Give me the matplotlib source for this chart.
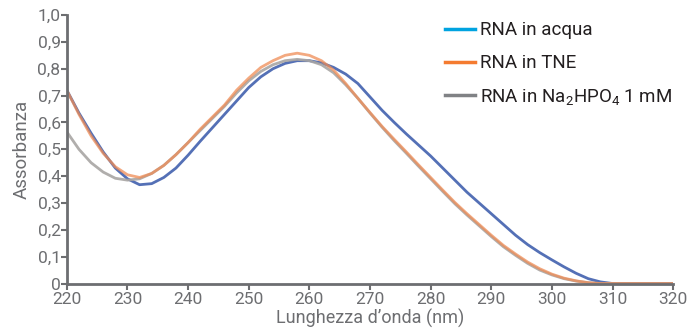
#!/usr/bin/env python3
"""UV absorbance spectra of RNA in three buffers."""

import matplotlib

matplotlib.use('Agg')
import matplotlib.pyplot as plt
from matplotlib.lines import Line2D
from matplotlib.ticker import FuncFormatter

# wavelengths (nm)
wl = [220, 222, 224, 226, 228, 230, 232, 234, 236, 238, 240, 242, 244, 246,
      248, 250, 252, 254, 256, 258, 260, 262, 264, 266, 268, 270, 272, 274,
      276, 278, 280, 282, 284, 286, 288, 290, 292, 294, 296, 298, 300, 302,
      304, 306, 308, 310, 314, 320]

acqua = [0.72, 0.635, 0.56, 0.49, 0.43, 0.39, 0.368, 0.372, 0.395, 0.43, 0.478,
         0.53, 0.58, 0.63, 0.68, 0.73, 0.77, 0.80, 0.82, 0.83, 0.83, 0.822,
         0.805, 0.78, 0.745, 0.695, 0.645, 0.60, 0.557, 0.516, 0.475, 0.43,
         0.385, 0.34, 0.30, 0.26, 0.22, 0.18, 0.145, 0.115, 0.088, 0.062,
         0.038, 0.018, 0.006, 0.0, 0.0, 0.0]

tne = [0.72, 0.63, 0.55, 0.485, 0.435, 0.405, 0.395, 0.41, 0.44, 0.48, 0.525,
       0.575, 0.62, 0.665, 0.72, 0.765, 0.805, 0.83, 0.85, 0.858, 0.85, 0.83,
       0.795, 0.745, 0.69, 0.637, 0.585, 0.537, 0.49, 0.442, 0.395, 0.348,
       0.302, 0.26, 0.22, 0.18, 0.142, 0.11, 0.08, 0.055, 0.035, 0.02, 0.01,
       0.003, 0.0, 0.0, 0.0, 0.0]

na2hpo4 = [0.565, 0.50, 0.45, 0.415, 0.392, 0.385, 0.39, 0.41, 0.44, 0.48,
           0.525, 0.57, 0.615, 0.66, 0.71, 0.755, 0.79, 0.815, 0.83, 0.835,
           0.83, 0.815, 0.785, 0.74, 0.69, 0.635, 0.582, 0.532, 0.485, 0.437,
           0.39, 0.343, 0.297, 0.255, 0.215, 0.175, 0.137, 0.105, 0.075, 0.05,
           0.032, 0.018, 0.009, 0.003, 0.0, 0.0, 0.0, 0.0]

labels = ['RNA in acqua', 'RNA in TNE', r'RNA in Na$_2$HPO$_4$ 1 mM']

plt.rcParams['font.family'] = ['Roboto', 'DejaVu Sans']
plt.rcParams['mathtext.fontset'] = 'custom'
plt.rcParams['mathtext.rm'] = 'Roboto'
plt.rcParams['mathtext.it'] = 'Roboto'

axis_grey = '#6d6e71'

fig = plt.figure(figsize=(6.89, 3.31), dpi=100)
ax = fig.add_axes([0.097, 0.1435, 0.880, 0.811])

ax.plot(wl, acqua, color='#5470b6', linewidth=2.0)
ax.plot(wl, na2hpo4, color='#a8a5a3', linewidth=2.0, alpha=0.9)
ax.plot(wl, tne, color='#ef8c55', linewidth=2.0, alpha=0.75)

ax.set_xlim(220, 320)
ax.set_ylim(0, 1.0)
ax.set_xticks(range(220, 321, 10))
ax.set_yticks([i / 10 for i in range(11)])
ax.yaxis.set_major_formatter(
    FuncFormatter(lambda v, _: '0' if v == 0 else f'{v:.1f}'.replace('.', ',')))

for side in ('top', 'right'):
    ax.spines[side].set_visible(False)
for side in ('left', 'bottom'):
    ax.spines[side].set_color(axis_grey)
    ax.spines[side].set_linewidth(2.0)
ax.tick_params(colors=axis_grey, labelsize=12.5, width=1.5, length=4)
ax.tick_params(axis='x', pad=2)
ax.tick_params(axis='y', pad=0.5)

ax.set_xlabel('Lunghezza d\u2019onda (nm)', color=axis_grey, fontsize=13,
              labelpad=1.5)
ax.set_ylabel('Assorbanza', color=axis_grey, fontsize=13.5, labelpad=5)

handles = [Line2D([], [], color=c, linewidth=2.5)
           for c in ('#00a3e0', '#f47b30', '#808285')]
leg = ax.legend(handles, labels, loc='upper left', bbox_to_anchor=(0.602, 1.025),
                frameon=False, fontsize=13.5, handlelength=1.6,
                handletextpad=0.28, labelspacing=0.78, borderpad=0.2)
for t in leg.get_texts():
    t.set_color('#231f20')

fig.savefig('out.png')
